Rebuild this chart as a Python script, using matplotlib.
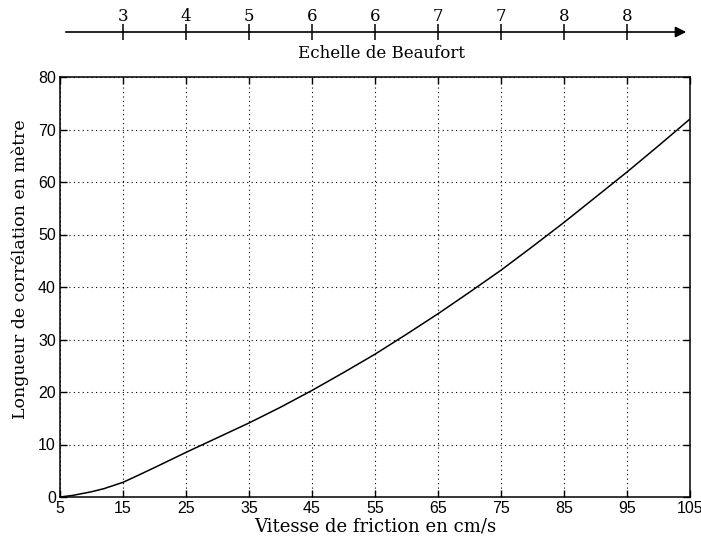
import numpy as np
import matplotlib.pyplot as plt

# friction velocity (cm/s) and correlation length (m)
vitesse = [5, 7, 10, 12, 15, 17, 20, 25, 30, 35, 40, 45, 50, 55, 60, 65, 70, 75, 80, 85, 90, 95, 100, 105]
longueur = [0.0, 0.3, 1.0, 1.6, 2.8, 3.9, 5.6, 8.5, 11.3, 14.1, 17.1, 20.3, 23.7, 27.2, 31.0, 34.9, 39.0, 43.2, 47.7, 52.3, 57.1, 61.9, 66.9, 72.0]

x_ticks = [5, 15, 25, 35, 45, 55, 65, 75, 85, 95, 105]
y_ticks = [0, 10, 20, 30, 40, 50, 60, 70, 80]

beaufort_pos = [15, 25, 35, 45, 55, 65, 75, 85, 95]
beaufort_lab = ['3', '4', '5', '6', '6', '7', '7', '8', '8']

SANS = ['Liberation Sans', 'DejaVu Sans']
SERIF = ['DejaVu Serif']

W, H = 701, 540
fig = plt.figure(figsize=(W / 100, H / 100), dpi=100)

# main axes
ax = fig.add_axes([60 / W, 1 - 497 / H, 630 / W, 420 / H])
ax.plot(vitesse, longueur, color='black', lw=1.1)
ax.set_xlim(5, 105)
ax.set_ylim(0, 80)
ax.set_xticks(x_ticks)
ax.set_yticks(y_ticks)
ax.grid(True, color='black', linestyle=(0, (1, 3)), lw=0.8)
ax.tick_params(direction='in', length=5, top=True, right=True, labelsize=11.5, width=1, pad=3)
for lab in ax.get_xticklabels() + ax.get_yticklabels():
    lab.set_family(SANS)
for s in ax.spines.values():
    s.set_linewidth(1.1)
ax.set_xlabel('Vitesse de friction en cm/s', family=SERIF, fontsize=13, labelpad=1)
ax.set_ylabel('Longueur de corrélation en mètre', family=SERIF, fontsize=12.5)
ax.yaxis.set_label_coords(-31 / 630, (497 - 269) / 420)

# Beaufort scale on top
line_y = 1 - 32 / H
ax2 = fig.add_axes([60 / W, line_y, 630 / W, 0.0001])
ax2.set_xlim(5, 105)
ax2.set_ylim(0, 1)
for s in ax2.spines.values():
    s.set_visible(False)
ax2.set_yticks([])
ax2.xaxis.set_ticks_position('top')
ax2.set_xticks(beaufort_pos)
ax2.set_xticklabels(beaufort_lab, family=SERIF, fontsize=12)
ax2.tick_params(axis='x', direction='inout', length=11.5, width=1.1, pad=-1)
ax2.patch.set_visible(False)

fig.add_artist(plt.matplotlib.patches.FancyArrowPatch(
    (63 / W, line_y), (689 / W, line_y), transform=fig.transFigure,
    arrowstyle='-|>', mutation_scale=16, color='black', lw=1.2))

fig.text(382 / W, 1 - 53 / H, 'Echelle de Beaufort', family=SERIF, fontsize=12,
         ha='center', va='center')

fig.savefig('out.png', dpi=100)
